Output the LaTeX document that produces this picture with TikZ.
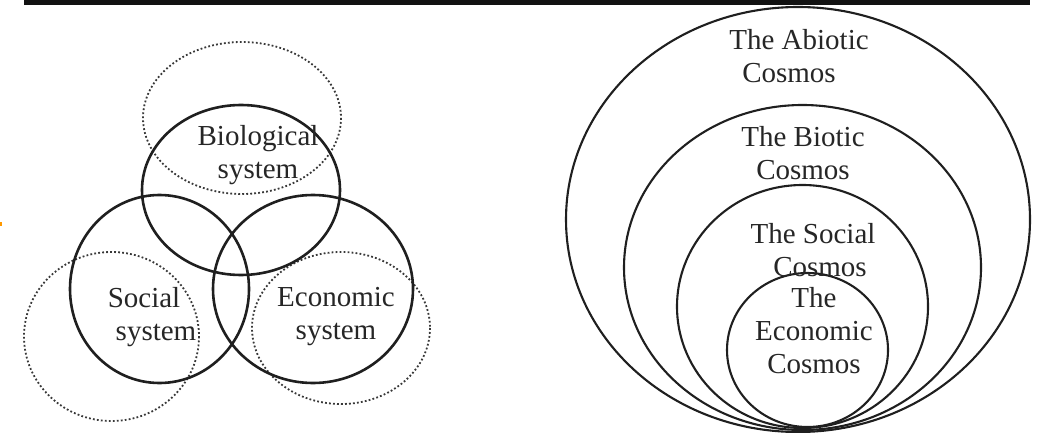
\documentclass[tikz,border=0pt]{standalone}
\usepackage{fontspec}
\setmainfont{Liberation Serif}
\newcommand{\padr}[1]{\hbox to #1{}}
\begin{document}
\begin{tikzpicture}[x=1pt,y=-1pt,
  solidring/.style={draw=black!88,line width=2.6pt},
  thinring/.style={draw=black!88,line width=2.1pt},
  dotring/.style={draw=black!78,line width=1.8pt,dash pattern=on 1.8pt off 2.2pt},
  lbl/.style={align=center,inner sep=0pt,text=black!85,font=\fontsize{29}{33}\selectfont}]
\useasboundingbox (0,0) rectangle (1040,433);
\fill[black!93] (24,0) rectangle (1030,5.5);
\fill[orange!80!yellow] (0,222) rectangle (2,226);
% left diagram
\draw[dotring] (242,118) ellipse[x radius=99,y radius=76];
\draw[dotring] (111.5,336.5) ellipse[x radius=87.5,y radius=84.5];
\draw[dotring] (341,328) ellipse[x radius=89,y radius=76];
\draw[solidring] (241,190) ellipse[x radius=99,y radius=85];
\draw[solidring] (159.5,289) ellipse[x radius=89.5,y radius=94];
\draw[solidring] (313,289) ellipse[x radius=100,y radius=94];
\node[lbl] (bio) at (258,155) {Biological\\system};
\node[lbl] (soc) at (156,317) {Social\padr{24pt}\\system};
\node[lbl] (eco) at (336,317) {Economic\\system};
% right diagram
\draw[thinring] (798,219.5) ellipse[x radius=232,y radius=212.5];
\draw[thinring] (802.5,267.5) ellipse[x radius=178.5,y radius=162.5];
\draw[thinring] (802.5,306.5) ellipse[x radius=125.5,y radius=121.5];
\draw[thinring] (807.5,350) ellipse[x radius=80.5,y radius=77];
\node[lbl] (abio) at (799,56) {The Abiotic\\Cosmos\padr{20pt}};
\node[lbl] (biot) at (803,153) {The Biotic\\Cosmos};
\node[lbl] (socc) at (813,250) {The Social\\\padr{14pt}Cosmos};
\node[lbl] (ecoc) at (814,331) {The\\Economic\\Cosmos};
\end{tikzpicture}
\end{document}
